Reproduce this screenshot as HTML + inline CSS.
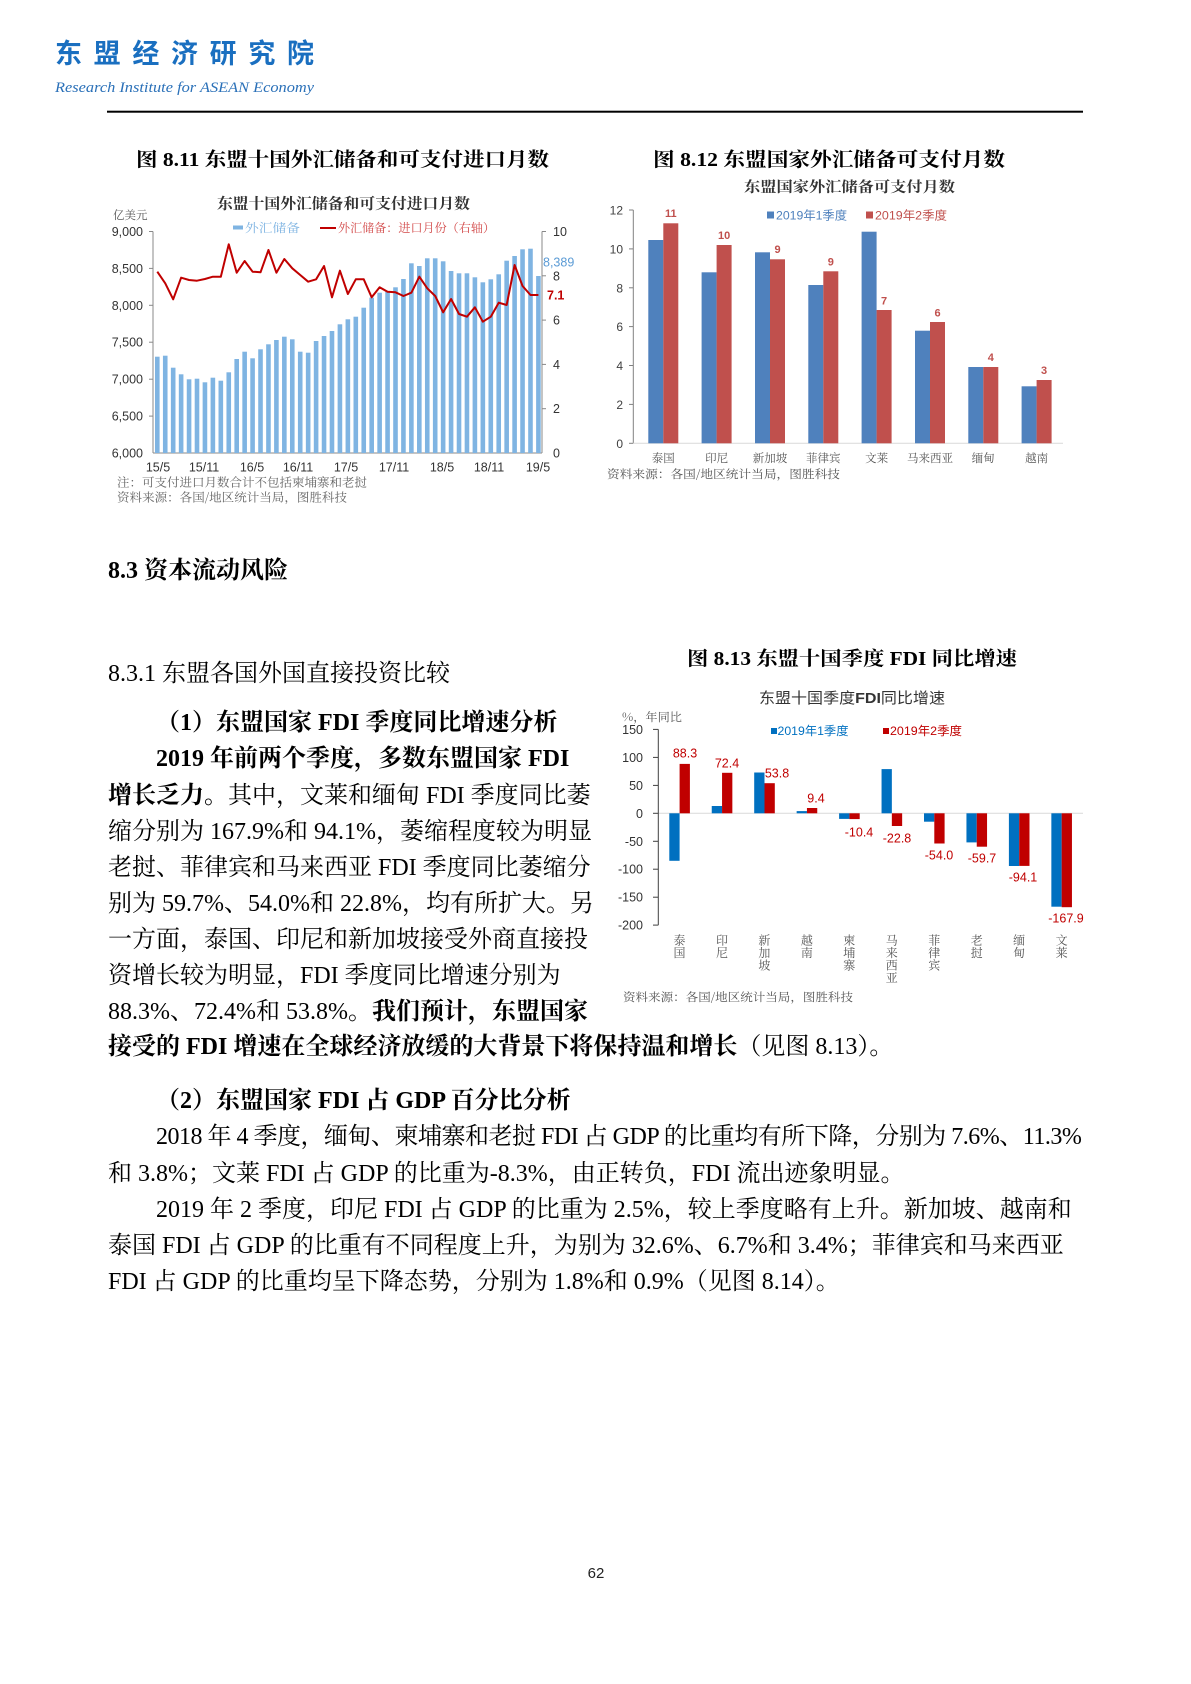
<!DOCTYPE html>
<html>
<head>
<meta charset="utf-8">
<style>
  html,body{margin:0;padding:0;background:#fff;}
  body{width:1191px;height:1684px;position:relative;overflow:hidden;}
  svg{position:absolute;left:0;top:0;}
  .t{position:absolute;white-space:nowrap;font-family:"Liberation Serif","Noto Serif CJK SC",serif;font-size:24px;line-height:36px;color:#000;}
  .b{font-weight:bold;}
</style>
</head>
<body>
<svg width="1191" height="1684" viewBox="0 0 1191 1684" xmlns="http://www.w3.org/2000/svg">
  <!-- Header -->
  <text x="55" y="63" font-family="Noto Sans CJK SC, sans-serif" font-weight="bold" font-size="27" fill="#1a6fc0" textLength="259" lengthAdjust="spacing">东盟经济研究院</text>
  <text x="55" y="92" font-family="Liberation Serif, serif" font-style="italic" font-size="15" fill="#2a70b8" textLength="259" lengthAdjust="spacingAndGlyphs">Research Institute for ASEAN Economy</text>
  <rect x="107" y="110.7" width="976" height="2" fill="#000"/>

  <!-- Figure titles -->
  <g font-family="Liberation Serif, Noto Serif CJK SC, serif" font-weight="bold" font-size="19.5" fill="#000">
    <text x="136" y="166" textLength="413" lengthAdjust="spacingAndGlyphs">图 8.11 东盟十国外汇储备和可支付进口月数</text>
    <text x="653" y="166" textLength="352" lengthAdjust="spacingAndGlyphs">图 8.12 东盟国家外汇储备可支付月数</text>
    <text x="687" y="665" textLength="330" lengthAdjust="spacingAndGlyphs">图 8.13 东盟十国季度 FDI 同比增速</text>
  </g>

  <!-- ================= Chart 1 ================= -->
  <text x="217" y="208.5" font-family="Noto Serif CJK SC, serif" font-weight="bold" font-size="15" fill="#333" textLength="253" lengthAdjust="spacingAndGlyphs">东盟十国外汇储备和可支付进口月数</text>
  <text x="113" y="219" font-family="Noto Serif CJK SC, serif" font-size="11.5" fill="#555">亿美元</text>
  <rect x="233" y="225.5" width="10" height="4" fill="#7fb4e2"/>
  <text x="245" y="232" font-family="Noto Serif CJK SC, serif" font-size="12" fill="#7fb4e2" textLength="55" lengthAdjust="spacingAndGlyphs">外汇储备</text>
  <line x1="320" y1="228" x2="336" y2="228" stroke="#c00000" stroke-width="2"/>
  <text x="338" y="232" font-family="Noto Serif CJK SC, serif" font-size="12" fill="#d24848" textLength="157" lengthAdjust="spacingAndGlyphs">外汇储备：进口月份（右轴）</text>

  <g font-family="Liberation Sans, sans-serif" font-size="12.5" fill="#333" text-anchor="end">
    <text x="143" y="236">9,000</text>
    <text x="143" y="272.9">8,500</text>
    <text x="143" y="309.8">8,000</text>
    <text x="143" y="346.7">7,500</text>
    <text x="143" y="383.7">7,000</text>
    <text x="143" y="420.6">6,500</text>
    <text x="143" y="457.5">6,000</text>
  </g>
  <g font-family="Liberation Sans, sans-serif" font-size="12.5" fill="#333">
    <text x="553" y="236">10</text>
    <text x="553" y="280.3">8</text>
    <text x="553" y="324.6">6</text>
    <text x="553" y="368.9">4</text>
    <text x="553" y="413.2">2</text>
    <text x="553" y="457.5">0</text>
  </g>
  <g stroke="#888" stroke-width="1">
    <line x1="153" y1="231.5" x2="153" y2="453"/>
    <line x1="149" y1="231.5" x2="153" y2="231.5"/>
    <line x1="149" y1="268.4" x2="153" y2="268.4"/>
    <line x1="149" y1="305.3" x2="153" y2="305.3"/>
    <line x1="149" y1="342.2" x2="153" y2="342.2"/>
    <line x1="149" y1="379.2" x2="153" y2="379.2"/>
    <line x1="149" y1="416.1" x2="153" y2="416.1"/>
    <line x1="542" y1="231.5" x2="542" y2="453"/>
    <line x1="542" y1="231.5" x2="546" y2="231.5"/>
    <line x1="542" y1="275.8" x2="546" y2="275.8"/>
    <line x1="542" y1="320.1" x2="546" y2="320.1"/>
    <line x1="542" y1="364.4" x2="546" y2="364.4"/>
    <line x1="542" y1="408.7" x2="546" y2="408.7"/>
    <line x1="153" y1="453" x2="542" y2="453"/>
  </g>
  <g fill="#7fb4e2">
    <rect x="155.0" y="356.7" width="4.6" height="96.3"/>
    <rect x="162.94" y="355.7" width="4.6" height="97.3"/>
    <rect x="170.88" y="367.7" width="4.6" height="85.3"/>
    <rect x="178.82" y="374.3" width="4.6" height="78.7"/>
    <rect x="186.76" y="379.3" width="4.6" height="73.7"/>
    <rect x="194.7" y="378.7" width="4.6" height="74.3"/>
    <rect x="202.64" y="382.3" width="4.6" height="70.7"/>
    <rect x="210.58" y="377.7" width="4.6" height="75.3"/>
    <rect x="218.52" y="380.7" width="4.6" height="72.3"/>
    <rect x="226.46" y="372.3" width="4.6" height="80.7"/>
    <rect x="234.4" y="359" width="4.6" height="94"/>
    <rect x="242.34" y="351.7" width="4.6" height="101.3"/>
    <rect x="250.28" y="358.3" width="4.6" height="94.7"/>
    <rect x="258.22" y="349.3" width="4.6" height="103.7"/>
    <rect x="266.16" y="344.3" width="4.6" height="108.7"/>
    <rect x="274.1" y="340" width="4.6" height="113"/>
    <rect x="282.04" y="336.7" width="4.6" height="116.3"/>
    <rect x="289.98" y="339.3" width="4.6" height="113.7"/>
    <rect x="297.92" y="351.7" width="4.6" height="101.3"/>
    <rect x="305.86" y="352.7" width="4.6" height="100.3"/>
    <rect x="313.8" y="341" width="4.6" height="112"/>
    <rect x="321.74" y="336" width="4.6" height="117"/>
    <rect x="329.68" y="331" width="4.6" height="122"/>
    <rect x="337.62" y="324.3" width="4.6" height="128.7"/>
    <rect x="345.56" y="319.3" width="4.6" height="133.7"/>
    <rect x="353.5" y="316.7" width="4.6" height="136.3"/>
    <rect x="361.44" y="307.7" width="4.6" height="145.3"/>
    <rect x="369.38" y="297.7" width="4.6" height="155.3"/>
    <rect x="377.32" y="292.7" width="4.6" height="160.3"/>
    <rect x="385.26" y="291.7" width="4.6" height="161.3"/>
    <rect x="393.2" y="287.3" width="4.6" height="165.7"/>
    <rect x="401.14" y="279" width="4.6" height="174"/>
    <rect x="409.08" y="263.3" width="4.6" height="189.7"/>
    <rect x="417.02" y="266" width="4.6" height="187"/>
    <rect x="424.96" y="258.3" width="4.6" height="194.7"/>
    <rect x="432.9" y="258.3" width="4.6" height="194.7"/>
    <rect x="440.84" y="261.3" width="4.6" height="191.7"/>
    <rect x="448.78" y="271" width="4.6" height="182"/>
    <rect x="456.72" y="273.3" width="4.6" height="179.7"/>
    <rect x="464.66" y="273.3" width="4.6" height="179.7"/>
    <rect x="472.6" y="277.3" width="4.6" height="175.7"/>
    <rect x="480.54" y="282.3" width="4.6" height="170.7"/>
    <rect x="488.48" y="279.3" width="4.6" height="173.7"/>
    <rect x="496.42" y="274.3" width="4.6" height="178.7"/>
    <rect x="504.36" y="260.7" width="4.6" height="192.3"/>
    <rect x="512.3" y="256" width="4.6" height="197"/>
    <rect x="520.24" y="249.3" width="4.6" height="203.7"/>
    <rect x="528.18" y="248.7" width="4.6" height="204.3"/>
    <rect x="536.12" y="276" width="4.6" height="177"/>
  </g>
  <polyline fill="none" stroke="#c00000" stroke-width="2" stroke-linejoin="round" points="157.3,271.7 165.24,283.3 173.18,299.3 181.12,277.7 189.06,280 197,280.7 204.94,279 212.88,276.7 220.82,276.7 228.76,244.3 236.7,272.7 244.64,261 252.58,271.7 260.52,272.3 268.46,250 276.4,272.7 284.34,259 292.28,268.3 300.22,275 308.16,281.7 316.1,279.3 324.04,266 331.98,297.3 339.92,270.7 347.86,294 355.8,279.3 363.74,279.3 371.68,297.3 379.62,287.3 387.56,291.7 395.5,292.3 403.44,296 411.38,292.7 419.32,276.7 427.26,288.3 435.2,296 443.14,312.3 451.08,299 459.02,314 466.96,316.7 474.9,307.3 482.84,321.7 490.78,316.7 498.72,302.7 506.66,305 514.6,265 522.54,286 530.48,295 538.42,295"/>
  <text x="543" y="266.5" font-family="Liberation Sans, sans-serif" font-size="12.5" fill="#5b9bd5">8,389</text>
  <text x="547" y="299.5" font-family="Liberation Sans, sans-serif" font-size="12.5" font-weight="bold" fill="#c00000">7.1</text>
  <g font-family="Liberation Sans, sans-serif" font-size="12.5" fill="#333" text-anchor="middle">
    <text x="158" y="471.5">15/5</text>
    <text x="204" y="471.5">15/11</text>
    <text x="252" y="471.5">16/5</text>
    <text x="298" y="471.5">16/11</text>
    <text x="346" y="471.5">17/5</text>
    <text x="394" y="471.5">17/11</text>
    <text x="442" y="471.5">18/5</text>
    <text x="489" y="471.5">18/11</text>
    <text x="538" y="471.5">19/5</text>
  </g>
  <g font-family="Noto Serif CJK SC, serif" font-size="12" fill="#666">
    <text x="117" y="486.5" textLength="250" lengthAdjust="spacingAndGlyphs">注：可支付进口月数合计不包括柬埔寨和老挝</text>
    <text x="117" y="501.5" textLength="230" lengthAdjust="spacingAndGlyphs">资料来源：各国/地区统计当局，图胜科技</text>
  </g>

  <!-- ================= Chart 2 ================= -->
  <text x="744" y="192" font-family="Noto Serif CJK SC, serif" font-weight="bold" font-size="14.5" fill="#333" textLength="211" lengthAdjust="spacingAndGlyphs">东盟国家外汇储备可支付月数</text>
  <rect x="767" y="211.5" width="7" height="7" fill="#4f81bd"/>
  <text x="776" y="219.5" font-family="Liberation Sans, Noto Sans CJK SC, sans-serif" font-size="12" fill="#4f81bd" textLength="71" lengthAdjust="spacingAndGlyphs">2019年1季度</text>
  <rect x="866" y="211.5" width="7" height="7" fill="#c0504d"/>
  <text x="875" y="219.5" font-family="Liberation Sans, Noto Sans CJK SC, sans-serif" font-size="12" fill="#c0504d" textLength="72" lengthAdjust="spacingAndGlyphs">2019年2季度</text>
  <g font-family="Liberation Sans, sans-serif" font-size="12" fill="#404040" text-anchor="end">
    <text x="623" y="214.5">12</text>
    <text x="623" y="253.4">10</text>
    <text x="623" y="292.3">8</text>
    <text x="623" y="331.1">6</text>
    <text x="623" y="370">4</text>
    <text x="623" y="408.9">2</text>
    <text x="623" y="447.8">0</text>
  </g>
  <g stroke="#808080" stroke-width="1">
    <line x1="633.3" y1="210" x2="633.3" y2="443.3"/>
    <line x1="629" y1="210" x2="633.3" y2="210"/>
    <line x1="629" y1="248.9" x2="633.3" y2="248.9"/>
    <line x1="629" y1="287.8" x2="633.3" y2="287.8"/>
    <line x1="629" y1="326.6" x2="633.3" y2="326.6"/>
    <line x1="629" y1="365.5" x2="633.3" y2="365.5"/>
    <line x1="629" y1="404.4" x2="633.3" y2="404.4"/>
    <line x1="629" y1="443.3" x2="633.3" y2="443.3"/>
  </g>
  <line x1="633.3" y1="443.3" x2="1063" y2="443.3" stroke="#d9d9d9" stroke-width="1"/>
  <g fill="#4f81bd">
    <rect x="648.3" y="240" width="15" height="203.3"/>
    <rect x="701.6" y="272.3" width="15" height="171"/>
    <rect x="755" y="252.3" width="15" height="191"/>
    <rect x="808.3" y="285" width="15" height="158.3"/>
    <rect x="861.6" y="231.7" width="15" height="211.6"/>
    <rect x="915" y="330.7" width="15" height="112.6"/>
    <rect x="968.3" y="367" width="15" height="76.3"/>
    <rect x="1021.6" y="386.3" width="15" height="57"/>
  </g>
  <g fill="#c0504d">
    <rect x="663.3" y="223.3" width="15" height="220"/>
    <rect x="716.6" y="245" width="15" height="198.3"/>
    <rect x="770" y="259.3" width="15" height="184"/>
    <rect x="823.3" y="271.3" width="15" height="172"/>
    <rect x="876.6" y="310" width="15" height="133.3"/>
    <rect x="930" y="322" width="15" height="121.3"/>
    <rect x="983.3" y="367" width="15" height="76.3"/>
    <rect x="1036.6" y="380" width="15" height="63.3"/>
  </g>
  <g font-family="Liberation Sans, sans-serif" font-size="11" font-weight="bold" fill="#c0504d" text-anchor="middle">
    <text x="670.8" y="217">11</text>
    <text x="724.1" y="239">10</text>
    <text x="777.5" y="253">9</text>
    <text x="830.8" y="265.5">9</text>
    <text x="884.1" y="304.5">7</text>
    <text x="937.5" y="316.5">6</text>
    <text x="990.8" y="361">4</text>
    <text x="1044.1" y="374">3</text>
  </g>
  <g font-family="Noto Serif CJK SC, serif" font-size="11.5" fill="#555" text-anchor="middle">
    <text x="663.3" y="462">泰国</text>
    <text x="716.6" y="462">印尼</text>
    <text x="770" y="462">新加坡</text>
    <text x="823.3" y="462">菲律宾</text>
    <text x="876.6" y="462">文莱</text>
    <text x="930" y="462">马来西亚</text>
    <text x="983.3" y="462">缅甸</text>
    <text x="1036.6" y="462">越南</text>
  </g>
  <text x="607" y="478" font-family="Noto Serif CJK SC, serif" font-size="11.5" fill="#555" textLength="233" lengthAdjust="spacingAndGlyphs">资料来源：各国/地区统计当局，图胜科技</text>

  <!-- ================= Chart 3 ================= -->
  <text x="759" y="703" font-family="Liberation Sans, Noto Sans CJK SC, sans-serif" font-size="15" fill="#333" textLength="186" lengthAdjust="spacingAndGlyphs">东盟十国季度<tspan font-weight="bold">FDI</tspan>同比增速</text>
  <text x="622" y="721" font-family="Noto Serif CJK SC, serif" font-size="11.5" fill="#555" textLength="60" lengthAdjust="spacingAndGlyphs">%，年同比</text>
  <rect x="771" y="728" width="6" height="6" fill="#0070c0"/>
  <text x="777.5" y="735" font-family="Liberation Sans, Noto Sans CJK SC, sans-serif" font-size="12" fill="#0070c0" textLength="71" lengthAdjust="spacingAndGlyphs">2019年1季度</text>
  <rect x="883" y="728" width="6" height="6" fill="#c00000"/>
  <text x="890" y="735" font-family="Liberation Sans, Noto Sans CJK SC, sans-serif" font-size="12" fill="#c00000" textLength="72" lengthAdjust="spacingAndGlyphs">2019年2季度</text>
  <g font-family="Liberation Sans, sans-serif" font-size="12.5" fill="#333" text-anchor="end">
    <text x="643" y="733.9">150</text>
    <text x="643" y="761.9">100</text>
    <text x="643" y="789.9">50</text>
    <text x="643" y="817.8">0</text>
    <text x="643" y="845.8">-50</text>
    <text x="643" y="873.7">-100</text>
    <text x="643" y="901.7">-150</text>
    <text x="643" y="929.6">-200</text>
  </g>
  <line x1="658.3" y1="813.3" x2="1083" y2="813.3" stroke="#d9d9d9" stroke-width="1"/>
  <g stroke="#404040" stroke-width="1">
    <line x1="658.3" y1="729.4" x2="658.3" y2="925.1"/>
    <line x1="653" y1="729.4" x2="658.3" y2="729.4"/>
    <line x1="653" y1="757.4" x2="658.3" y2="757.4"/>
    <line x1="653" y1="785.4" x2="658.3" y2="785.4"/>
    <line x1="653" y1="813.3" x2="658.3" y2="813.3"/>
    <line x1="653" y1="841.3" x2="658.3" y2="841.3"/>
    <line x1="653" y1="869.2" x2="658.3" y2="869.2"/>
    <line x1="653" y1="897.2" x2="658.3" y2="897.2"/>
    <line x1="653" y1="925.1" x2="658.3" y2="925.1"/>
  </g>
  <g fill="#0070c0">
    <rect x="669.3" y="813.3" width="10.3" height="47.5"/>
    <rect x="711.75" y="806.0" width="10.3" height="7.3"/>
    <rect x="754.2" y="772.5" width="10.3" height="40.8"/>
    <rect x="796.65" y="811.1" width="10.3" height="2.2"/>
    <rect x="839.1" y="813.3" width="10.3" height="5.6"/>
    <rect x="881.55" y="769.1" width="10.3" height="44.2"/>
    <rect x="924.0" y="813.3" width="10.3" height="8.4"/>
    <rect x="966.45" y="813.3" width="10.3" height="29.1"/>
    <rect x="1008.9" y="813.3" width="10.3" height="52.7"/>
    <rect x="1051.35" y="813.3" width="10.3" height="93.4"/>
  </g>
  <g fill="#c00000">
    <rect x="679.6" y="763.9" width="10.3" height="49.4"/>
    <rect x="722.05" y="772.8" width="10.3" height="40.5"/>
    <rect x="764.5" y="783.2" width="10.3" height="30.1"/>
    <rect x="806.95" y="808.0" width="10.3" height="5.3"/>
    <rect x="849.4" y="813.3" width="10.3" height="5.8"/>
    <rect x="891.85" y="813.3" width="10.3" height="12.7"/>
    <rect x="934.3" y="813.3" width="10.3" height="30.2"/>
    <rect x="976.75" y="813.3" width="10.3" height="33.4"/>
    <rect x="1019.2" y="813.3" width="10.3" height="52.6"/>
    <rect x="1061.65" y="813.3" width="10.3" height="93.9"/>
  </g>
  <g font-family="Liberation Sans, sans-serif" font-size="12.5" fill="#c00000" text-anchor="middle">
    <text x="685" y="757.5">88.3</text>
    <text x="727" y="767.5">72.4</text>
    <text x="777" y="777.5">53.8</text>
    <text x="816" y="802.5">9.4</text>
    <text x="859" y="836.5">-10.4</text>
    <text x="897" y="842.5">-22.8</text>
    <text x="939" y="859.5">-54.0</text>
    <text x="982" y="862.5">-59.7</text>
    <text x="1023" y="881.5">-94.1</text>
    <text x="1066" y="922.5">-167.9</text>
  </g>
  <g font-family="Noto Serif CJK SC, serif" font-size="12" fill="#555" text-anchor="middle">
    <text x="679.5" y="944.5">泰</text><text x="679.5" y="957">国</text>
    <text x="722" y="944.5">印</text><text x="722" y="957">尼</text>
    <text x="764.4" y="944.5">新</text><text x="764.4" y="957">加</text><text x="764.4" y="969.5">坡</text>
    <text x="806.9" y="944.5">越</text><text x="806.9" y="957">南</text>
    <text x="849.3" y="944.5">柬</text><text x="849.3" y="957">埔</text><text x="849.3" y="969.5">寨</text>
    <text x="891.8" y="944.5">马</text><text x="891.8" y="957">来</text><text x="891.8" y="969.5">西</text><text x="891.8" y="982">亚</text>
    <text x="934.2" y="944.5">菲</text><text x="934.2" y="957">律</text><text x="934.2" y="969.5">宾</text>
    <text x="976.7" y="944.5">老</text><text x="976.7" y="957">挝</text>
    <text x="1019.1" y="944.5">缅</text><text x="1019.1" y="957">甸</text>
    <text x="1061.6" y="944.5">文</text><text x="1061.6" y="957">莱</text>
  </g>
  <text x="623" y="1001" font-family="Noto Serif CJK SC, serif" font-size="11.5" fill="#555" textLength="230" lengthAdjust="spacingAndGlyphs">资料来源：各国/地区统计当局，图胜科技</text>

  <!-- Page number -->
  <text x="596" y="1578" font-family="Liberation Sans, sans-serif" font-size="15" fill="#222" text-anchor="middle">62</text>
</svg>

<div class="t b" style="left:108px;top:553px;">8.3 资本流动风险</div>
<div class="t" style="left:108px;top:656px;">8.3.1 东盟各国外国直接投资比较</div>
<div class="t b" style="left:156px;top:705px;">（1）东盟国家 FDI 季度同比增速分析</div>
<div class="t b" style="left:156px;top:741px;">2019 年前两个季度，多数东盟国家 FDI</div>
<div class="t" style="left:108px;top:778px;"><b>增长乏力。</b>其中，文莱和缅甸 FDI 季度同比萎</div>
<div class="t" style="left:108px;top:814px;">缩分别为 167.9%和 94.1%，萎缩程度较为明显</div>
<div class="t" style="left:108px;top:850px;">老挝、菲律宾和马来西亚 FDI 季度同比萎缩分</div>
<div class="t" style="left:108px;top:886px;">别为 59.7%、54.0%和 22.8%，均有所扩大。另</div>
<div class="t" style="left:108px;top:922px;">一方面，泰国、印尼和新加坡接受外商直接投</div>
<div class="t" style="left:108px;top:958px;">资增长较为明显，FDI 季度同比增速分别为</div>
<div class="t" style="left:108px;top:994px;">88.3%、72.4%和 53.8%。<b>我们预计，东盟国家</b></div>
<div class="t" style="left:108px;top:1029px;"><b>接受的 FDI 增速在全球经济放缓的大背景下将保持温和增长</b>（见图 8.13）。</div>
<div class="t b" style="left:156px;top:1083px;">（2）东盟国家 FDI 占 GDP 百分比分析</div>
<div class="t" style="left:156px;top:1119px;letter-spacing:-0.5px;">2018 年 4 季度，缅甸、柬埔寨和老挝 FDI 占 GDP 的比重均有所下降，分别为 7.6%、11.3%</div>
<div class="t" style="left:108px;top:1156px;">和 3.8%；文莱 FDI 占 GDP 的比重为-8.3%，由正转负，FDI 流出迹象明显。</div>
<div class="t" style="left:156px;top:1192px;">2019 年 2 季度，印尼 FDI 占 GDP 的比重为 2.5%，较上季度略有上升。新加坡、越南和</div>
<div class="t" style="left:108px;top:1228px;">泰国 FDI 占 GDP 的比重有不同程度上升，为别为 32.6%、6.7%和 3.4%；菲律宾和马来西亚</div>
<div class="t" style="left:108px;top:1264px;">FDI 占 GDP 的比重均呈下降态势，分别为 1.8%和 0.9%（见图 8.14）。</div>
</body>
</html>
